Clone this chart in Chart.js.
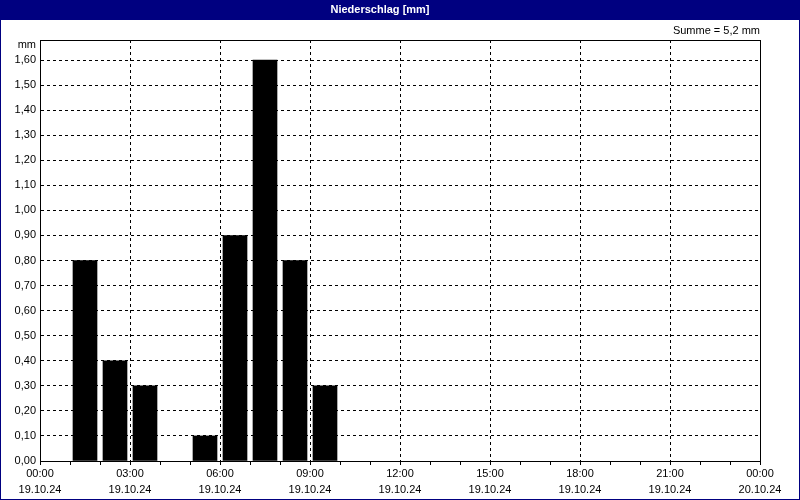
<!DOCTYPE html>
<html><head><meta charset="utf-8">
<script src="https://cdn.jsdelivr.net/npm/chart.js@4/dist/chart.umd.min.js"></script>
<style>html,body{margin:0;padding:0;background:#fff;}#wrap{width:800px;height:500px;position:relative;}</style>
</head><body><div id="wrap"><canvas id="c" width="800" height="500"></canvas></div>
<script>
// Data (hour of day when each interval starts, precipitation in mm)
const hourStarts = [0, 1, 2, 3, 4, 5, 6, 7, 8, 9];
const precipMm   = [0, 0.8, 0.4, 0.3, 0, 0.1, 0.9, 1.6, 0.8, 0.3];
const tickTimes  = ['00:00','03:00','06:00','09:00','12:00','15:00','18:00','21:00','00:00'];
const tickDates  = ['19.10.24','19.10.24','19.10.24','19.10.24','19.10.24','19.10.24','19.10.24','19.10.24','20.10.24'];
const titleText  = 'Niederschlag [mm]';
const sumText    = 'Summe = 5,2 mm';
const unitText   = 'mm';

const NAVY = '#000080';
const FONT = "'Liberation Sans', Arial, sans-serif";

const points = hourStarts
  .map((h, i) => ({x: h + 0.5, y: precipMm[i]}))
  .filter(p => p.y > 0);

const framePlugin = {
  id: 'frame',
  beforeDraw(chart) {
    const ctx = chart.ctx;
    ctx.save();
    ctx.fillStyle = '#fff';
    ctx.fillRect(0, 0, 800, 500);
    ctx.fillStyle = NAVY;
    ctx.fillRect(0, 0, 800, 20);
    ctx.fillRect(0, 0, 1, 500);
    ctx.fillRect(799, 0, 1, 500);
    ctx.fillRect(0, 499, 800, 1);
    ctx.restore();
  },
  afterDraw(chart) {
    const ctx = chart.ctx, a = chart.chartArea;
    ctx.save();
    ctx.strokeStyle = '#000';
    ctx.lineWidth = 1;
    ctx.strokeRect(Math.round(a.left) + 0.5, Math.round(a.top) + 0.5, Math.round(a.right - a.left), Math.round(a.bottom - a.top));
    ctx.fillStyle = '#000';
    ctx.font = '11px ' + FONT;
    ctx.textAlign = 'right';
    ctx.textBaseline = 'middle';
    ctx.fillText(unitText, a.left - 4, a.top + 5);
    ctx.restore();
  }
};

new Chart(document.getElementById('c'), {
  type: 'bar',
  data: {
    datasets: [{
      data: points,
      backgroundColor: '#000',
      borderWidth: 0,
      barThickness: 24
    }]
  },
  plugins: [framePlugin],
  options: {
    responsive: false,
    animation: false,
    devicePixelRatio: 1,
    layout: {padding: {left: 0, right: 40, top: 0, bottom: 0}},
    plugins: {
      legend: {display: false},
      tooltip: {enabled: false},
      title: {
        display: true, text: titleText, color: '#fff',
        font: {family: FONT, size: 11, weight: 'bold', lineHeight: '14px'},
        padding: {top: 3, bottom: 3}
      },
      subtitle: {
        display: true, text: sumText, color: '#000', align: 'end',
        font: {family: FONT, size: 11, lineHeight: '14px'},
        padding: {top: 4, bottom: 2}
      }
    },
    scales: {
      x: {
        type: 'linear', min: 0, max: 24, offset: false,
        afterFit(s) { s.height = 39; },
        afterBuildTicks(s) { s.ticks = Array.from({length: 25}, (_, i) => ({value: i})); },
        ticks: {
          stepSize: 1, autoSkip: false, maxRotation: 0, color: '#000', padding: 1,
          font: {family: FONT, size: 11, lineHeight: '16px'},
          callback: (v) => (v % 3 === 0) ? [tickTimes[v / 3], tickDates[v / 3]] : ''
        },
        grid: {
          offset: false,
          drawOnChartArea: true,
          color: (c) => (c.tick && c.tick.value % 3 === 0) ? '#000' : 'rgba(0,0,0,0)',
          tickColor: '#000', tickLength: 4
        },
        border: {display: true, color: '#000', dash: [3, 3]}
      },
      y: {
        min: 0, max: 1.68,
        afterFit(s) { s.width = 40; },
        afterBuildTicks(s) { s.ticks = Array.from({length: 17}, (_, i) => ({value: i / 10})); },
        ticks: {
          stepSize: 0.1, color: '#000', padding: 4,
          font: {family: FONT, size: 11},
          callback: (v) => v.toFixed(2).replace('.', ',')
        },
        grid: {color: '#000', drawTicks: false},
        border: {display: true, color: '#000', dash: [3, 3]}
      }
    }
  }
});
</script></body></html>
